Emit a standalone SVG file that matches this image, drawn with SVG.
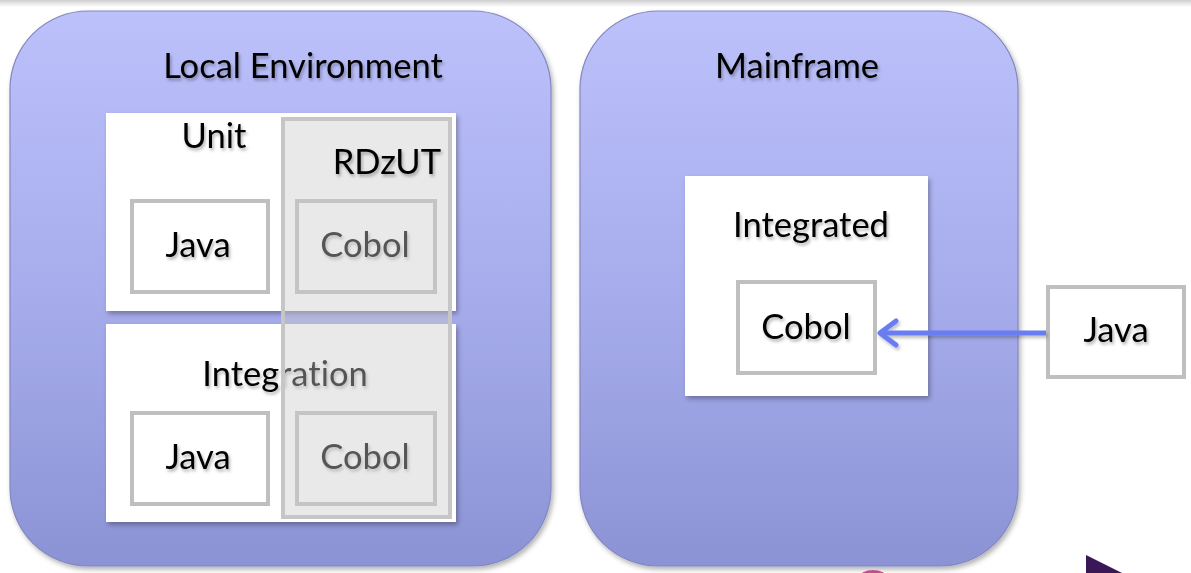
<svg xmlns="http://www.w3.org/2000/svg" width="1191" height="573" viewBox="0 0 1191 573">
<defs>
<linearGradient id="panelGrad" x1="0" y1="0" x2="0" y2="1">
<stop offset="0" stop-color="#bcc1fb"/>
<stop offset="0.5" stop-color="#a7adec"/>
<stop offset="1" stop-color="#8c93d5"/>
</linearGradient>
<linearGradient id="topBar" x1="0" y1="0" x2="0" y2="1">
<stop offset="0" stop-color="#cfcfcf"/>
<stop offset="1" stop-color="#ffffff"/>
</linearGradient>
<filter id="shadow" x="-10%" y="-10%" width="120%" height="120%">
<feDropShadow dx="2" dy="3" stdDeviation="2.5" flood-color="#000" flood-opacity="0.3"/>
</filter>
<filter id="tshadow" x="-10%" y="-20%" width="120%" height="150%">
<feDropShadow dx="1.5" dy="2.5" stdDeviation="1.5" flood-color="#000" flood-opacity="0.3"/>
</filter>
<filter id="lshadow" filterUnits="userSpaceOnUse" x="850" y="300" width="220" height="70">
<feDropShadow dx="1.5" dy="2.5" stdDeviation="1.5" flood-color="#000" flood-opacity="0.25"/>
</filter>
<marker id="chev" viewBox="0 0 22 30" refX="19" refY="15" markerWidth="22" markerHeight="30" markerUnits="userSpaceOnUse" orient="auto">
<path d="M3 3 L19 15 L3 27" fill="none" stroke="#6b7cf2" stroke-width="5" stroke-linecap="round" stroke-linejoin="round"/>
</marker>
<style>
.panel{fill:url(#panelGrad);stroke:#8288bf;stroke-width:1.2;}
.white{fill:#ffffff;}
.box{fill:#ffffff;stroke:#bfbfbf;stroke-width:4;}
.t{font-family:Lato,"Open Sans","Liberation Sans",sans-serif;font-size:34.5px;fill:#000;text-anchor:middle;font-variant-ligatures:none;filter:url(#tshadow);}
</style>
</defs>
<rect x="0" y="0" width="1191" height="7" fill="url(#topBar)"/>
<g id="local-environment">
<rect class="panel" x="10" y="11" width="541" height="555" rx="78" ry="78" filter="url(#shadow)"/>
<text class="t" x="303" y="78">Local Environment</text>
</g>
<g id="mainframe">
<rect class="panel" x="580" y="11" width="438" height="555" rx="78" ry="78" filter="url(#shadow)"/>
<text class="t" x="797" y="78">Mainframe</text>
</g>
<g id="unit">
<rect class="white" x="106" y="113" width="350" height="198" filter="url(#shadow)"/>
<text class="t" x="214" y="148">Unit</text>
</g>
<g id="unit-java">
<rect class="box" x="132" y="201" width="136" height="91"/>
<text class="t" x="198" y="257">Java</text>
</g>
<g id="unit-cobol">
<rect class="box" x="297" y="201" width="138" height="91"/>
<text class="t" x="365" y="257">Cobol</text>
</g>
<g id="integration">
<rect class="white" x="106" y="324" width="350" height="198" filter="url(#shadow)"/>
<text class="t" x="285" y="386">Integration</text>
</g>
<g id="integration-java">
<rect class="box" x="132" y="413" width="136" height="91"/>
<text class="t" x="198" y="469">Java</text>
</g>
<g id="integration-cobol">
<rect class="box" x="297" y="413" width="138" height="91"/>
<text class="t" x="365" y="469">Cobol</text>
</g>
<g id="rdzut">
<rect x="283" y="119" width="167" height="398" fill="rgb(202,202,202)" fill-opacity="0.42" stroke="#c6c6c6" stroke-width="4"/>
<text class="t" x="441" y="174" style="text-anchor:end">RDzUT</text>
</g>
<g id="integrated">
<rect class="white" x="685" y="176" width="243" height="220" filter="url(#shadow)"/>
<text class="t" x="811" y="237">Integrated</text>
</g>
<g id="mainframe-cobol">
<rect class="box" x="738" y="282" width="137" height="91"/>
<text class="t" x="806" y="339">Cobol</text>
</g>
<g id="external-java">
<rect class="box" x="1048" y="287" width="136" height="90"/>
<text class="t" x="1116" y="342">Java</text>
</g>
<g id="connectors" filter="url(#lshadow)">
<line x1="1046" y1="333" x2="880" y2="333" stroke="#6b7cf2" stroke-width="5" marker-end="url(#chev)"/>
</g>
<ellipse cx="873" cy="578" rx="14" ry="8" fill="#c0508a"/>
<polygon points="1086,555 1122,573 1086,573" fill="#3a1858"/>
</svg>
